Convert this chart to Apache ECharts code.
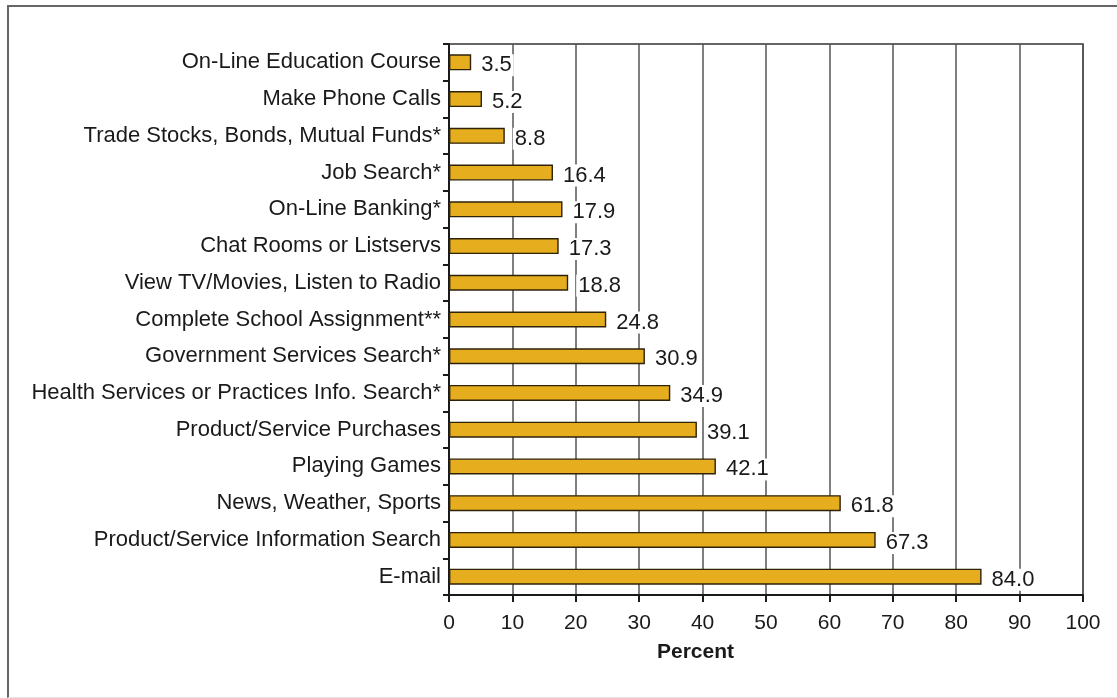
<!DOCTYPE html>
<html>
<head>
<meta charset="utf-8">
<script src="https://cdn.jsdelivr.net/npm/echarts@6/dist/echarts.min.js"></script>
<style>
html,body{margin:0;padding:0;background:#fff;}
#frame{position:absolute;left:7px;top:5px;width:1120px;height:693px;border-left:2px solid #666;border-top:2px solid #666;border-bottom:1px solid #e6e6e6;box-sizing:border-box;}
#chart{position:absolute;left:0;top:0;width:1117px;height:698px;}
</style>
</head>
<body>
<div id="frame"></div>
<div id="chart"></div>
<script>
const categories = [
  "On-Line Education Course",
  "Make Phone Calls",
  "Trade Stocks, Bonds, Mutual Funds*",
  "Job Search*",
  "On-Line Banking*",
  "Chat Rooms or Listservs",
  "View TV/Movies, Listen to Radio",
  "Complete School Assignment**",
  "Government Services Search*",
  "Health Services or Practices Info. Search*",
  "Product/Service Purchases",
  "Playing Games",
  "News, Weather, Sports",
  "Product/Service Information Search",
  "E-mail"
];
const values = [3.5, 5.2, 8.8, 16.4, 17.9, 17.3, 18.8, 24.8, 30.9, 34.9, 39.1, 42.1, 61.8, 67.3, 84.0];
const xTicks = [0, 10, 20, 30, 40, 50, 60, 70, 80, 90, 100];
const axisName = "Percent";

const font = "'Liberation Sans', Arial, Helvetica, sans-serif";
const chart = echarts.init(document.getElementById('chart'));
chart.setOption({
  animation: false,
  grid: {left: 449, right: 34, top: 44, bottom: 103, show: true, borderColor: '#333', borderWidth: 1.5, backgroundColor: 'transparent'},
  xAxis: {
    type: 'value', min: xTicks[0], max: xTicks[xTicks.length - 1], interval: 10,
    axisLine: {show: true, lineStyle: {color: '#1a1a1a', width: 2}},
    axisTick: {show: true, length: 7, lineStyle: {color: '#1a1a1a', width: 2}},
    axisLabel: {color: '#1a1a1a', fontSize: 21, fontFamily: font, margin: 18},
    splitLine: {show: true, lineStyle: {color: '#555', width: 1.5}}
  },
  yAxis: {
    type: 'category', data: categories, inverse: true,
    axisLine: {show: true, lineStyle: {color: '#1a1a1a', width: 2}},
    axisTick: {show: true, length: 6, lineStyle: {color: '#1a1a1a', width: 2}},
    axisLabel: {color: '#1a1a1a', fontSize: 22, fontFamily: font, margin: 8, padding: [4, 0, 0, 0]}
  },
  graphic: [{
    type: 'text', left: 657, top: 642,
    style: {text: axisName, font: "bold 21px " + font, fill: '#1a1a1a'}
  }],
  series: [{
    type: 'bar', data: values, barWidth: 16,
    itemStyle: {color: '#E6AE1E', borderColor: '#2e2208', borderWidth: 1.4},
    label: {
      show: true, position: 'right', distance: 8, offset: [0, 3],
      formatter: p => p.value.toFixed(1),
      color: '#1a1a1a', fontSize: 22, fontFamily: font,
      backgroundColor: '#fff', padding: [0, 2]
    }
  }]
});
</script>
</body>
</html>
